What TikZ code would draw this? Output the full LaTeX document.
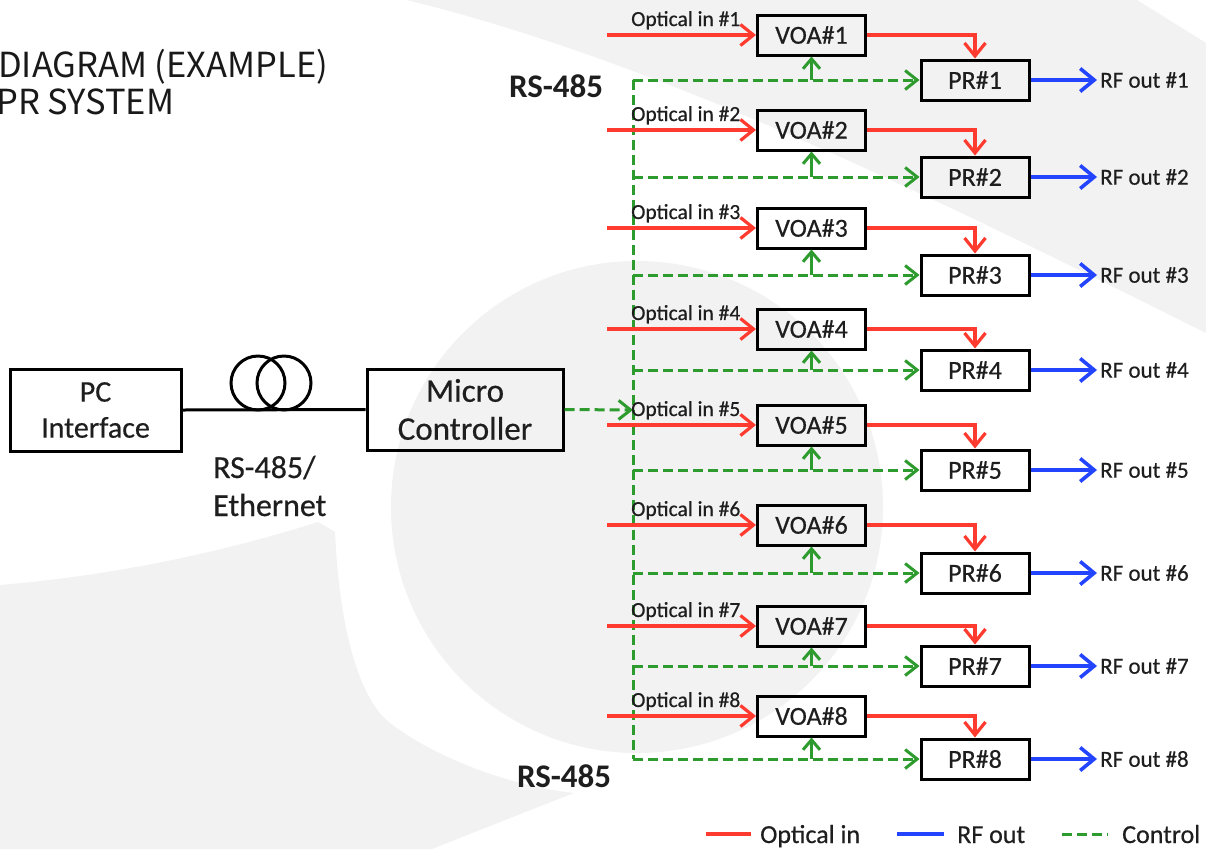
\documentclass[tikz,border=0pt]{standalone}
\usepackage{fontspec}
\setmainfont{Carlito}[UprightFeatures={FakeBold=0.5}]
\newfontfamily\titlefont{Noto Sans CJK JP}
\usetikzlibrary{arrows.meta}
\definecolor{bggray}{HTML}{F2F2F2}
\definecolor{optred}{HTML}{FF3A2E}
\definecolor{ctlgreen}{HTML}{2E9B2E}
\definecolor{rfblue}{HTML}{2445FF}
\definecolor{txt}{HTML}{1E1E1E}
\begin{document}
\begin{tikzpicture}[x=1pt,y=-1pt,
  box/.style={draw=black, line width=3pt, minimum width=108pt, minimum height=40pt, inner sep=0pt, font=\fontsize{26}{28}\selectfont, text=txt},
  bigbox/.style={draw=black, line width=3pt, inner sep=0pt, align=center, text=txt},
  optical/.style={draw=optred, line width=3.2pt, -{Straight Barb[length=13pt,width=21pt]}},
  optplain/.style={draw=optred, line width=3.2pt},
  rfline/.style={draw=rfblue, line width=3.6pt, -{Straight Barb[length=14pt,width=23pt]}},
  rfplain/.style={draw=rfblue, line width=3.6pt},
  control/.style={draw=ctlgreen, line width=3pt, dash pattern=on 10pt off 5pt},
  ctlarrow/.style={control, -{Straight Barb[length=12pt,width=19pt]}},
  ctlup/.style={draw=ctlgreen, line width=3pt, -{Straight Barb[length=10pt,width=17pt]}},
  inlabel/.style={anchor=base west, inner sep=0pt, font=\fontsize{21.5}{23}\selectfont, text=txt},
  rflabel/.style={anchor=west, inner sep=0pt, font=\fontsize{23}{25}\selectfont, text=txt},
  leglabel/.style={anchor=base west, inner sep=0pt, font=\fontsize{26}{28}\selectfont, text=txt},
  rslabel/.style={inner sep=0pt, font=\bfseries\fontsize{33}{36}\selectfont, text=txt},
  titletext/.style={anchor=base west, inner sep=0pt, font=\titlefont\fontsize{34.5}{38}\selectfont, text=black!90}
]
\useasboundingbox (0,0) rectangle (1206,849);
\clip (0,0) rectangle (1206,849);
\fill[white] (0,0) rectangle (1206,849);
% background watermark
\fill[bggray] (407,0) -- (1137,0) -- (1206,43) -- (1206,333) .. controls (900,180) and (650,60) .. (407,0) -- cycle;
\fill[bggray] (637,507) circle[radius=246pt];
\fill[bggray] (0,585) .. controls (120,575) and (230,550) .. (318,522) -- (335,532) .. controls (338,600) and (350,680) .. (383,717) .. controls (420,750) and (500,785) .. (574,793) .. controls (530,810) and (480,830) .. (432,849) -- (0,849) -- cycle;

% title
\node[titletext] (title1) at (-2,77) {DIAGRAM (EXAMPLE)};
\node[titletext] (title2) at (-4,114) {PR SYSTEM};

% left part
\node[bigbox, minimum width=171pt, minimum height=82pt, font=\fontsize{30}{36}\selectfont] (pc) at (95.5,410) {PC\\Interface};
\node[bigbox, minimum width=196pt, minimum height=81pt, font=\fontsize{33}{38}\selectfont] (micro) at (465,409.5) {Micro\\Controller};
\draw[black, line width=3pt] (pc.east) -- (micro.west);
\node[circle, draw=black, line width=3pt, minimum size=54pt, inner sep=0pt] (coilA) at (258,383) {};
\node[circle, draw=black, line width=3pt, minimum size=54pt, inner sep=0pt] (coilB) at (284,383) {};
\node[anchor=west, align=left, inner sep=0pt, font=\fontsize{32}{38}\selectfont, text=txt] (eth) at (213,486) {RS-485/\\Ethernet};

\node[rslabel] (rstop) at (556,86) {RS-485};
\node[rslabel] (rsbot) at (564,776) {RS-485};

% control bus
\coordinate (bustop) at (633,80);
\coordinate (busbot) at (633,759);
\coordinate (busmid) at (633,410);
\draw[control] (bustop) -- (busbot);
\draw[ctlarrow] (micro.east) -- (busmid);

\foreach \i/\vy/\py in {1/35/80, 2/130/177, 3/228/275, 4/329/370, 5/425/470, 6/525/573, 7/626/666, 8/716/759}{
  \node[box] (voa\i) at (811.5,\vy) {VOA\#\i};
  \node[box] (pr\i) at (975,\py) {PR\#\i};
  \coordinate (in\i) at (607,\vy);
  \coordinate (bus\i) at (633,\py);
  \coordinate (rf\i) at (1097,\py);
  \draw[ctlarrow] (bus\i) -- (pr\i.west);
  \draw[ctlup] (voa\i.south |- bus\i) -- (voa\i.south);
  \draw[optical] (in\i) -- (voa\i.west);
  \draw[optical] (voa\i.east) -| (pr\i.north);
  \draw[rfline] (pr\i.east) -- (rf\i);
  \node[rflabel] (rft\i) at (1100,\py) {RF out \#\i};
  \node[inlabel] (lab\i) at (631,\vy-9) {Optical in \#\i};
}

% legend
\coordinate (lgr1) at (706,834);
\coordinate (lgr2) at (751,834);
\coordinate (lgb1) at (897,834);
\coordinate (lgb2) at (944,834);
\coordinate (lgg1) at (1062,834);
\coordinate (lgg2) at (1108,834);
\draw[optplain] (lgr1) -- (lgr2);
\draw[rfplain] (lgb1) -- (lgb2);
\draw[control] (lgg1) -- (lgg2);
\node[leglabel] (lgt1) at (760,843) {Optical in};
\node[leglabel] (lgt2) at (957,843) {RF out};
\node[leglabel] (lgt3) at (1122,843) {Control};
\end{tikzpicture}
\end{document}
